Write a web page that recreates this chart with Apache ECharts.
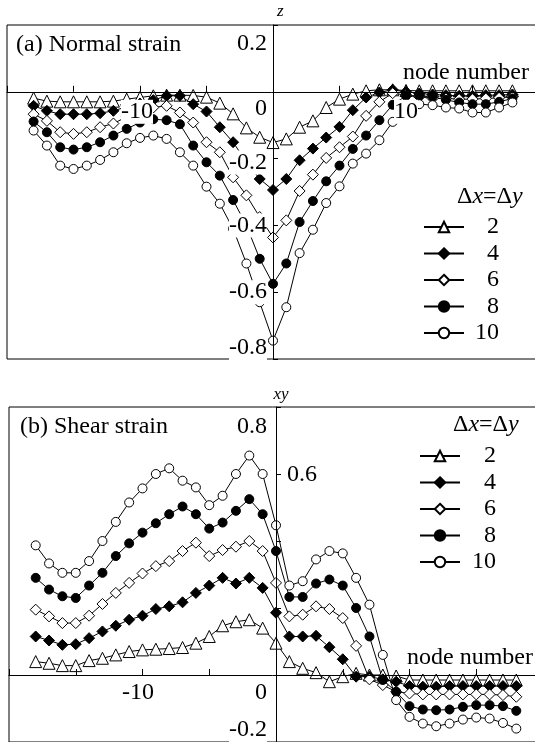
<!DOCTYPE html>
<html><head><meta charset="utf-8">
<script src="https://cdn.jsdelivr.net/npm/echarts@6/dist/echarts.min.js"></script>
<style>html,body{margin:0;padding:0;background:#fff}#c{width:535px;height:742px}</style>
</head><body><div id="c"></div>
<script>
const nodes = [-18,-17,-16,-15,-14,-13,-12,-11,-10,-9,-8,-7,-6,-5,-4,-3,-2,-1,0,1,2,3,4,5,6,7,8,9,10,11,12,13,14,15,16,17,18];
const seriesNames = ['2','4','6','8','10'];

// (a) Normal strain
const normal2  = [-0.019,-0.028,-0.03,-0.03,-0.03,-0.03,-0.028,-0.022,-0.017,-0.012,-0.01,-0.01,-0.011,-0.016,-0.034,-0.066,-0.108,-0.136,-0.152,-0.141,-0.106,-0.087,-0.047,-0.022,-0.007,0.003,0.006,0.006,0.004,0.003,0.003,0.003,0.003,0.003,0.003,0.003,0.003];
const normal4  = [-0.042,-0.057,-0.067,-0.067,-0.067,-0.064,-0.057,-0.045,-0.035,-0.025,-0.012,-0.012,-0.037,-0.059,-0.106,-0.151,-0.21,-0.261,-0.294,-0.261,-0.205,-0.17,-0.137,-0.105,-0.055,-0.017,-0.002,0.006,0.0,-0.005,-0.008,-0.01,-0.012,-0.012,-0.01,-0.01,-0.008];
const normal6  = [-0.067,-0.087,-0.121,-0.126,-0.121,-0.106,-0.095,-0.075,-0.06,-0.047,-0.042,-0.062,-0.092,-0.151,-0.181,-0.256,-0.31,-0.375,-0.436,-0.385,-0.297,-0.248,-0.198,-0.166,-0.134,-0.072,-0.03,-0.004,-0.01,-0.015,-0.02,-0.02,-0.022,-0.022,-0.02,-0.018,-0.015];
const normal8  = [-0.089,-0.121,-0.166,-0.173,-0.166,-0.151,-0.131,-0.111,-0.092,-0.082,-0.085,-0.097,-0.161,-0.211,-0.251,-0.324,-0.4,-0.5,-0.575,-0.514,-0.39,-0.327,-0.268,-0.221,-0.171,-0.131,-0.085,-0.039,-0.012,-0.012,-0.015,-0.024,-0.032,-0.037,-0.037,-0.03,-0.02];
const normal10 = [-0.116,-0.161,-0.221,-0.231,-0.221,-0.204,-0.181,-0.154,-0.138,-0.131,-0.141,-0.181,-0.221,-0.284,-0.335,-0.41,-0.514,-0.63,-0.745,-0.645,-0.483,-0.413,-0.333,-0.283,-0.215,-0.185,-0.145,-0.09,-0.045,-0.037,-0.04,-0.047,-0.05,-0.062,-0.062,-0.047,-0.032];

// (b) Shear strain
const shear2  = [0.04,0.035,0.028,0.028,0.043,0.05,0.06,0.07,0.075,0.077,0.079,0.082,0.095,0.115,0.147,0.159,0.165,0.14,0.095,0.04,0.02,0.007,-0.02,-0.005,0.005,0.0,0.0,-0.003,-0.015,-0.015,-0.015,-0.015,-0.015,-0.015,-0.015,-0.015,-0.015];
const shear4  = [0.115,0.103,0.09,0.092,0.11,0.13,0.147,0.165,0.177,0.197,0.205,0.217,0.245,0.267,0.29,0.273,0.29,0.26,0.186,0.115,0.115,0.117,0.083,0.047,-0.005,-0.005,-0.013,-0.02,-0.033,-0.035,-0.035,-0.033,-0.033,-0.033,-0.033,-0.033,-0.033];
const shear6  = [0.195,0.175,0.155,0.155,0.177,0.212,0.245,0.275,0.303,0.325,0.34,0.37,0.395,0.355,0.373,0.383,0.4,0.37,0.275,0.175,0.18,0.205,0.197,0.17,0.087,-0.013,-0.03,-0.05,-0.055,-0.058,-0.058,-0.058,-0.058,-0.058,-0.058,-0.06,-0.065];
const shear8  = [0.29,0.255,0.235,0.23,0.267,0.305,0.355,0.393,0.425,0.453,0.48,0.503,0.48,0.437,0.455,0.49,0.525,0.48,0.37,0.233,0.233,0.273,0.285,0.267,0.2,0.115,-0.015,-0.05,-0.093,-0.103,-0.105,-0.103,-0.095,-0.09,-0.09,-0.093,-0.107];
const shear10 = [0.387,0.333,0.305,0.305,0.34,0.4,0.457,0.515,0.557,0.6,0.617,0.58,0.56,0.507,0.535,0.6,0.655,0.6,0.447,0.267,0.28,0.345,0.37,0.363,0.29,0.21,0.06,-0.075,-0.125,-0.145,-0.153,-0.145,-0.133,-0.127,-0.13,-0.143,-0.16];

const FONT = 'Liberation Serif';
const FS = 24;
const styles = [
  {symbol: 'triangle', filled: false, size: 12},
  {symbol: 'diamond', filled: true, size: 11},
  {symbol: 'diamond', filled: false, size: 11},
  {symbol: 'circle', filled: true, size: 9},
  {symbol: 'circle', filled: false, size: 9}
];

function mkSeries(name, vals, gi, st) {
  return {
    type: 'line', name: name, xAxisIndex: gi, yAxisIndex: gi,
    data: nodes.map((x, i) => [x, vals[i]]),
    symbol: st.symbol, symbolSize: st.size, showSymbol: true,
    itemStyle: {color: st.filled ? '#000' : '#fff', borderColor: '#000', borderWidth: 1},
    lineStyle: {color: '#000', width: 1},
    emphasis: {disabled: true}, silent: true, animation: false
  };
}

const normalSets = [normal2, normal4, normal6, normal8, normal10];
const shearSets = [shear2, shear4, shear6, shear8, shear10];
const series = [];
normalSets.forEach((d, i) => series.push(mkSeries(seriesNames[i], d, 0, styles[i])));
shearSets.forEach((d, i) => series.push(mkSeries(seriesNames[i], d, 1, styles[i])));

function yLabel(shifts, spacerRight) {
  return function (v) {
    const r = Math.round(v * 10) / 10;
    const key = r.toFixed(1);
    if (!(key in shifts)) return '';
    const txt = r === 0 ? '0' : r.toFixed(1);
    const s = shifts[key];
    const tail = spacerRight && r !== 0.6 ? '{sp| }' : '';
    if (s > 0) return '{h' + s + '| }\n{v|' + txt + '}' + tail;
    if (s < 0) return '{v|' + txt + '}' + tail + '\n{h' + (-s) + '| }';
    return '{v|' + txt + '}' + tail;
  };
}
function richFor(shifts, extra) {
  const rich = {v: {fontFamily: FONT, fontSize: FS, color: '#000', backgroundColor: '#fff', lineHeight: FS}};
  Object.values(shifts).forEach(s => {
    const a = Math.abs(s);
    if (a) rich['h' + a] = {height: 2 * a, lineHeight: 2 * a, fontSize: 1};
  });
  return Object.assign(rich, extra || {});
}
const topShifts = {'0.2': 19, '0.0': 17, '-0.2': 4, '-0.4': 0, '-0.6': 0, '-0.8': -11};
const botShifts = {'0.8': 20, '0.6': 1, '0.0': 18, '-0.2': -12};

// grid boxes and axis ranges
const grids = [
  {left: 7, top: 25, width: 532, height: 334},
  {left: 9, top: 407, width: 534, height: 335}
];
const xRange = [-20, 20];
const yRanges = [[-0.8, 0.2], [-0.2, 0.8]];
// shift axes onto the zero lines of the other axis (via axis offset)
function xOffset(gi) { const [a, b] = yRanges[gi]; return -grids[gi].height * (0 - a) / (b - a); }
function yOffset(gi) { const [a, b] = xRange; return -grids[gi].width * (0 - a) / (b - a); }

const txt = {fontFamily: FONT, fontSize: FS, color: '#000', fontWeight: 'normal'};
const legendRich = {a: {fontFamily: FONT, fontSize: FS, color: '#000', width: 30, align: 'right', lineHeight: FS}};
const legendRich2 = {a: {fontFamily: FONT, fontSize: FS, color: '#000', width: 31, align: 'right', lineHeight: FS}};
const dxdy = '{n|Δ}{i|x}{n|=Δ}{i|y}';
const dxdyRich = {n: {fontFamily: FONT, fontSize: FS, color: '#000', fontWeight: 'normal'}, i: {fontFamily: FONT, fontSize: FS, color: '#000', fontStyle: 'italic', fontWeight: 'normal'}};

const option = {
  backgroundColor: '#fff',
  animation: false,
  title: [
    {text: '(a) Normal strain', left: 16, top: 33, padding: 0, textStyle: txt},
    {text: dxdy, left: 457, top: 185, padding: 0, textStyle: {fontWeight: 'normal', rich: dxdyRich}},
    {text: '(b) Shear strain', left: 20, top: 415, padding: 0, textStyle: txt},
    {text: dxdy, left: 453, top: 413, padding: 0, textStyle: {fontWeight: 'normal', rich: dxdyRich}}
  ],
  legend: [
    {orient: 'vertical', left: 423, top: 215, padding: 0, itemWidth: 40, itemHeight: 13, itemGap: 2.5,
     data: seriesNames, formatter: n => '{a|' + n + '}', textStyle: {rich: legendRich}, selectedMode: false},
    {orient: 'vertical', left: 419, top: 444, padding: 0, itemWidth: 40, itemHeight: 13, itemGap: 2.5,
     data: seriesNames, formatter: n => '{a|' + n + '}', textStyle: {rich: legendRich2}, selectedMode: false}
  ],
  grid: grids.map(g => Object.assign({show: true, borderColor: '#000', borderWidth: 1, backgroundColor: 'transparent', outerBoundsMode: 'none', containLabel: false}, g)),
  xAxis: [
    {gridIndex: 0, type: 'value', min: xRange[0], max: xRange[1], interval: 5, zlevel: 1, z: 3,
     position: 'bottom', offset: xOffset(0),
     axisLine: {onZero: false, lineStyle: {color: '#000', width: 1}},
     axisTick: {inside: true, length: 6, lineStyle: {color: '#000'}},
     splitLine: {show: false},
     axisLabel: {margin: 8, formatter: v => v === -10 ? '{m|-10}{sp| }' : (v === 10 ? '{m|10}' : ''),
       rich: {m: {fontFamily: FONT, fontSize: FS, color: '#000', backgroundColor: '#fff', lineHeight: FS}, sp: {width: 6}}},
     name: 'node number', nameLocation: 'end', nameGap: -10, nameMoveOverlap: false,
     nameTextStyle: {fontFamily: FONT, fontSize: FS, color: '#000', align: 'right', verticalAlign: 'bottom', padding: [0, 0, 7, 0]}},
    {gridIndex: 1, type: 'value', min: xRange[0], max: xRange[1], interval: 5, zlevel: 1, z: 3,
     position: 'bottom', offset: xOffset(1),
     axisLine: {onZero: false, lineStyle: {color: '#000', width: 1}},
     axisTick: {inside: true, length: 6, lineStyle: {color: '#000'}},
     splitLine: {show: false},
     axisLabel: {margin: 6, formatter: v => v === -10 ? '{m|-10}{sp| }' : '',
       rich: {m: {fontFamily: FONT, fontSize: FS, color: '#000', lineHeight: FS}, sp: {width: 9}}},
     name: 'node number', nameLocation: 'end', nameGap: -10, nameMoveOverlap: false,
     nameTextStyle: {fontFamily: FONT, fontSize: FS, color: '#000', align: 'right', verticalAlign: 'bottom', padding: [0, 0, 5, 0]}}
  ],
  yAxis: [
    {gridIndex: 0, type: 'value', min: yRanges[0][0], max: yRanges[0][1], interval: 0.2, zlevel: 1, z: 3,
     position: 'left', offset: yOffset(0),
     axisLine: {onZero: false, lineStyle: {color: '#000', width: 1}},
     axisTick: {inside: true, length: 5, lineStyle: {color: '#000'}},
     splitLine: {show: false},
     axisLabel: {margin: 6, formatter: yLabel(topShifts, false), rich: richFor(topShifts)},
     name: 'z', nameLocation: 'end', nameGap: 5, nameMoveOverlap: false,
     nameTextStyle: {fontFamily: FONT, fontSize: 17, fontStyle: 'italic', color: '#000', align: 'left', padding: [0, 0, 0, 4]}},
    {gridIndex: 1, type: 'value', min: yRanges[1][0], max: yRanges[1][1], interval: 0.2, zlevel: 1, z: 3,
     position: 'left', offset: yOffset(1),
     axisLine: {onZero: false, lineStyle: {color: '#000', width: 1}},
     axisTick: {inside: true, length: 5, lineStyle: {color: '#000'}},
     splitLine: {show: false},
     axisLabel: {inside: true, align: 'right', margin: 41,
       formatter: yLabel(botShifts, true),
       rich: richFor(botShifts, {sp: {width: 50}})},
     name: 'xy', nameLocation: 'end', nameGap: 4, nameMoveOverlap: false,
     nameTextStyle: {fontFamily: FONT, fontSize: 17, fontStyle: 'italic', color: '#000', align: 'center', padding: [0, 0, 0, 10]}}
  ],
  series: series
};
const chart = echarts.init(document.getElementById('c'), null, {renderer: 'canvas'});
chart.setOption(option);
</script>
</body></html>
